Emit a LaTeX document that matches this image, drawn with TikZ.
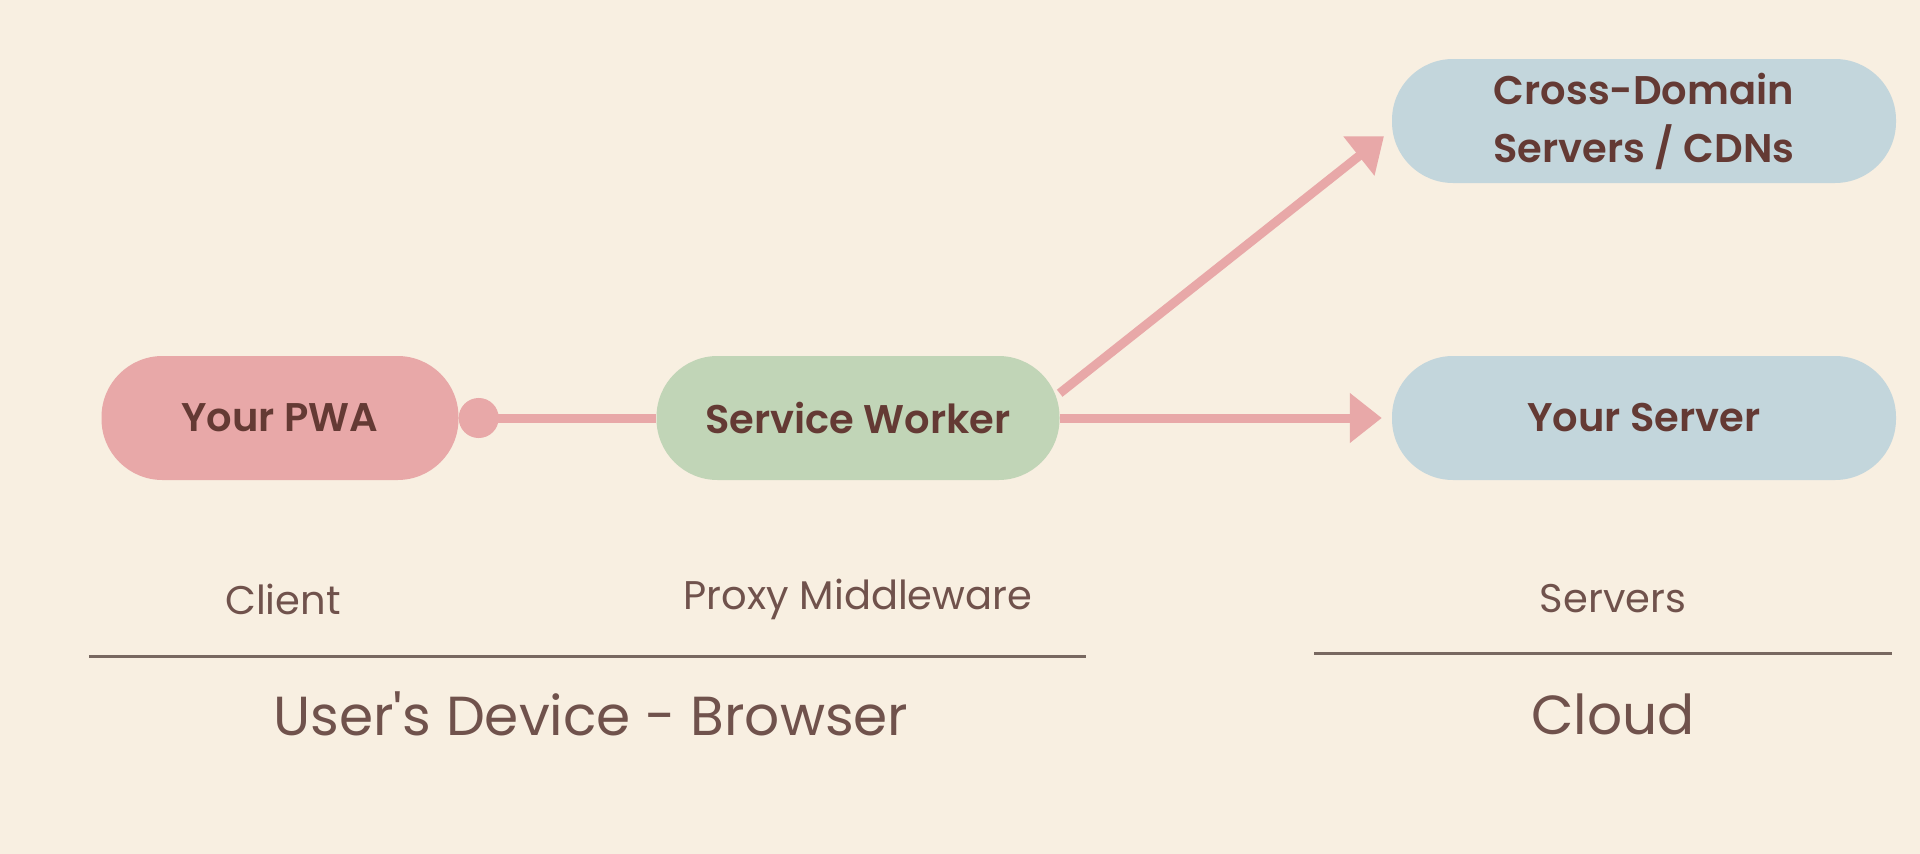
\documentclass[tikz,border=0pt]{standalone}
\usepackage{fontspec}
\setmainfont{Poppins}[BoldFont={Poppins SemiBold}]
\usepackage{tikz}
\usetikzlibrary{arrows.meta, positioning}
\definecolor{mybg}{RGB}{248,239,225}
\definecolor{mypink}{RGB}{232,168,168}
\definecolor{mygreen}{RGB}{193,213,183}
\definecolor{myblue}{RGB}{195,214,220}
\definecolor{mytext}{RGB}{100,58,52}
\definecolor{mylabel}{RGB}{112,82,76}
\definecolor{myrule}{RGB}{120,104,96}
\tikzset{
  pill/.style={rectangle, rounded corners=61pt, minimum width=357pt,
    minimum height=124pt, align=center, text=mytext,
    font=\fontsize{40}{58}\selectfont\bfseries},
  sublabel/.style={text=mylabel, font=\fontsize{40}{48}\selectfont},
  grouplabel/.style={text=mylabel, font=\fontsize{55}{60}\selectfont},
  link/.style={line width=9pt, color=mypink},
  tip/.style={-{Triangle[length=32pt, width=48pt]}}
}

\begin{document}
\begin{tikzpicture}[x=1pt, y=-1pt]
  \fill[mybg] (0,0) rectangle (1920,854);
  \useasboundingbox (0,0) rectangle (1920,854);

  % Browser side
  \node[pill, fill=mypink] (pwa) at (280,418) {Your PWA};
  \node[pill, fill=mygreen, minimum width=403pt] (sw) at (858,418) {Service Worker};

  % Cloud side
  \node[pill, fill=myblue, minimum width=504pt] (srv) at (1644,418) {Your Server};
  \node[pill, fill=myblue, minimum width=504pt] (cdn) at (1644,121) {Cross-Domain\\Servers / CDNs};

  % Connections
  \draw[link, {Circle[length=40pt]}-] (pwa) -- (sw);
  \draw[link, tip, shorten >=10pt] (sw) -- (srv);
  \draw[link, tip, shorten >=10pt] (sw.7) -- ([yshift=-9pt]cdn.west);

  % Tier labels
  \node[sublabel] (client) at (283,599) {Client};
  \node[sublabel] (proxy) at (858,599) {Proxy Middleware};
  \node[sublabel] (servers) at (1613,599) {Servers};

  \draw[line width=3pt, myrule] (89,656) -- (1086,656);
  \draw[line width=3pt, myrule] (1314,653) -- (1892,653);

  \node[grouplabel] (device) at (591,714) {User\textquotesingle s Device - Browser};
  \node[grouplabel] (cloud) at (1613,714) {Cloud};
\end{tikzpicture}
\end{document}
